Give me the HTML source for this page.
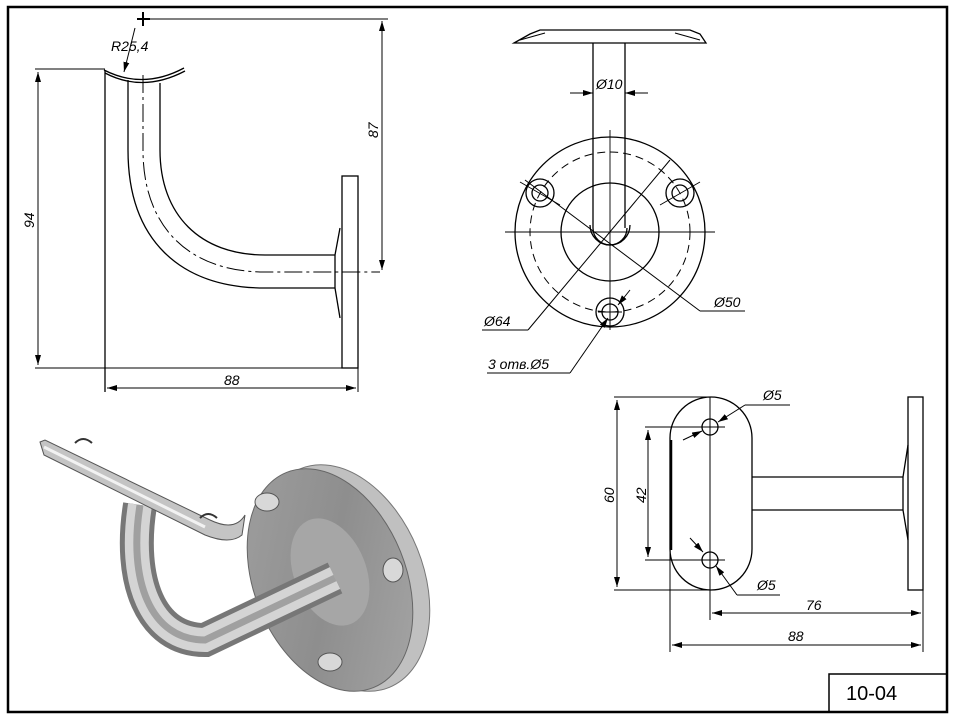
<!DOCTYPE html>
<html><head><meta charset="utf-8"><style>
html,body{margin:0;padding:0;background:#fff}
svg{display:block}
text{font-family:"Liberation Sans",sans-serif;font-style:italic;font-weight:normal;font-size:14px;fill:#000;stroke:none}
</style></head><body>
<svg width="957" height="719" viewBox="0 0 957 719" xmlns="http://www.w3.org/2000/svg">
<defs>
<linearGradient id="plate" x1="0" y1="0" x2="1" y2="1">
<stop offset="0" stop-color="#a0a0a0"/><stop offset="0.5" stop-color="#8e8e8e"/><stop offset="1" stop-color="#a8a8a8"/></linearGradient>
<marker id="ar" viewBox="0 0 10 6" refX="10" refY="3" markerWidth="10" markerHeight="6" orient="auto-start-reverse" markerUnits="userSpaceOnUse"><path d="M0,0 L10,3 L0,6 z" fill="#000"/></marker>
</defs>
<g fill="none" stroke="#000">
<rect x="8" y="7" width="939" height="705" stroke-width="2.5"/>
<rect x="829" y="674" width="118" height="38" stroke-width="1.5"/>

<g stroke-width="1.3">
<path d="M104,70 Q143,90 184,68"/><path d="M105,73 Q143,93 185,71"/>
<path d="M128,80 L128,150 C128,240 180,288 265,288 L335,288"/>
<path d="M160,83 L160,150 C160,215 200,255 265,255 L335,255"/>
<path d="M143,75 L143,150 C143,228 190,272 265,272 L380,272" stroke-dasharray="18,4,3,4" stroke-width="1"/>
<path d="M335,255 L335,288"/>
<path d="M335,255 L340,228 M335,288 L340,318"/>
<rect x="342" y="176" width="16" height="192"/>
<path d="M105,70 L105,392" />
<path d="M35,69 L105,69 M35,368 L342,368" stroke-width="1"/>
<path d="M38,72 L38,365" stroke-width="1" marker-start="url(#ar)" marker-end="url(#ar)"/>
<path d="M358,368 L358,392" stroke-width="1"/>
<path d="M107,388 L356,388" stroke-width="1" marker-start="url(#ar)" marker-end="url(#ar)"/>
<path d="M148,19 L388,19" stroke-width="1"/>
<path d="M137,19 L150,19 M143,12 L143,26" stroke-width="2"/>
<path d="M382,21 L382,270" stroke-width="1" marker-start="url(#ar)" marker-end="url(#ar)"/>
<path d="M135,28 L124,72" stroke-width="1" marker-end="url(#ar)"/>
</g>

<g stroke-width="1.3">
<path d="M514,43 L530,34 L540,30 L690,30 L700,34 L706,43 Z"/>
<path d="M520,40 L545,33 M700,40 L675,33" stroke-width="1"/>
<circle cx="610" cy="232" r="95"/>
<circle cx="610" cy="232" r="80" stroke-dasharray="8,5" stroke-width="1"/>
<circle cx="610" cy="232" r="49"/>
<path d="M593,43 L593,228 M625,43 L625,228"/>
<path d="M590,225 A20,20 0 0 0 630,225" />
<path d="M593,228 A17,17 0 0 0 627,228" />
<circle cx="540" cy="193" r="14"/><circle cx="540" cy="193" r="8"/>
<circle cx="680" cy="193" r="14"/><circle cx="680" cy="193" r="8"/>
<circle cx="610" cy="312" r="14"/><circle cx="610" cy="312" r="8"/>
<g stroke-width="0.9">
<path d="M505,232 L715,232 M610,130 L610,330"/>
<path d="M520,182 L560,205 M660,205 L700,182 M598,312 L622,312 M610,300 L610,324"/>
</g>
<path d="M570,93 L593,93 M625,93 L648,93" stroke-width="1"/>
<path d="M580,93 L593,93" marker-end="url(#ar)" stroke-width="1"/>
<path d="M638,93 L625,93" marker-end="url(#ar)" stroke-width="1"/>
<path d="M528,330 L670,160" stroke-width="1"/>
<path d="M482,330 L528,330 M700,311 L745,311 M487,373 L570,373" stroke-width="1"/>
<path d="M525,180 L700,311" stroke-width="1"/>
<path d="M570,373 L608,318" stroke-width="1" marker-end="url(#ar)"/>
<path d="M630,290 L618,305" stroke-width="1" marker-end="url(#ar)"/>
</g>

<g stroke-width="1.3">
<rect x="670" y="397" width="82" height="193" rx="41" ry="41"/>
<path d="M671,440 L671,550" stroke-width="2.5"/>
<circle cx="710" cy="427" r="8"/><circle cx="710" cy="560" r="8"/>
<path d="M752,477 L903,477 M752,510 L903,510 M903,477 L903,510"/>
<path d="M903,477 L908,445 M903,510 L908,540"/>
<rect x="908" y="397" width="15" height="193"/>
<g stroke-width="1">
<path d="M710,397 L710,620 M690,427 L725,427 M690,560 L725,560"/>
<path d="M614,397 L710,397 M614,590 L710,590 M645,427 L700,427 M645,560 L700,560"/>
<path d="M617,400 L617,587" marker-start="url(#ar)" marker-end="url(#ar)"/>
<path d="M648,430 L648,557" marker-start="url(#ar)" marker-end="url(#ar)"/>
<path d="M670,540 L670,652 M923,590 L923,652"/>
<path d="M712,613 L921,613" marker-start="url(#ar)" marker-end="url(#ar)"/>
<path d="M672,645 L921,645" marker-start="url(#ar)" marker-end="url(#ar)"/>
<path d="M745,405 L718,422" marker-end="url(#ar)"/>
<path d="M745,405 L790,405"/>
<path d="M683,440 L702,431" marker-end="url(#ar)"/>
<path d="M737,595 L716,566" marker-end="url(#ar)"/>
<path d="M737,595 L780,595"/>
<path d="M690,538 L703,552" marker-end="url(#ar)"/>
</g>
</g>
</g>

<text x="111" y="51">R25,4</text>
<text x="224" y="385">88</text>
<text transform="translate(34,228) rotate(-90)">94</text>
<text transform="translate(378,138) rotate(-90)">87</text>
<text x="596" y="89">Ø10</text>
<text x="484" y="326">Ø64</text>
<text x="714" y="307">Ø50</text>
<text x="488" y="369">3 отв.Ø5</text>
<text x="763" y="400">Ø5</text>
<text x="757" y="590">Ø5</text>
<text x="806" y="610">76</text>
<text x="788" y="641">88</text>
<text transform="translate(614,503) rotate(-90)">60</text>
<text transform="translate(646,503) rotate(-90)">42</text>
<text x="846" y="700" style="font-style:normal;font-size:20px">10-04</text>

<g>
<ellipse cx="345" cy="578" rx="78" ry="118" transform="rotate(-22 345 578)" fill="#c0c0c0" stroke="#777"/>
<ellipse cx="330" cy="580" rx="76" ry="116" transform="rotate(-22 330 580)" fill="url(#plate)" stroke="#666"/>
<ellipse cx="330" cy="572" rx="36" ry="56" transform="rotate(-22 330 572)" fill="#a6a6a6" stroke="none"/>
<path d="M140,505 C128,580 150,640 205,640 L335,578" stroke="#777" stroke-width="34" fill="none"/>
<path d="M140,505 C128,580 150,640 205,640 L335,578" stroke="#d4d4d4" stroke-width="24" fill="none"/>
<path d="M140,505 C128,580 150,640 205,640 L335,578" stroke="#a0a0a0" stroke-width="7" fill="none"/>
<path d="M40,442 L45,440 L210,520 Q235,532 245,515 L242,535 Q230,545 205,535 L44,455 Z" fill="#c4c4c4" stroke="#555"/>
<path d="M44,447 L205,527" stroke="#f2f2f2" stroke-width="3"/>
<path d="M75,443 Q83,435 92,443 M200,518 Q208,510 217,518" stroke="#333" stroke-width="2" fill="none"/>
<ellipse cx="267" cy="502" rx="12" ry="9" fill="#d8d8d8" stroke="#555"/>
<ellipse cx="393" cy="570" rx="10" ry="12" fill="#d8d8d8" stroke="#555"/>
<ellipse cx="330" cy="662" rx="12" ry="9" fill="#d8d8d8" stroke="#555"/>
</g>
</svg>
</body></html>
